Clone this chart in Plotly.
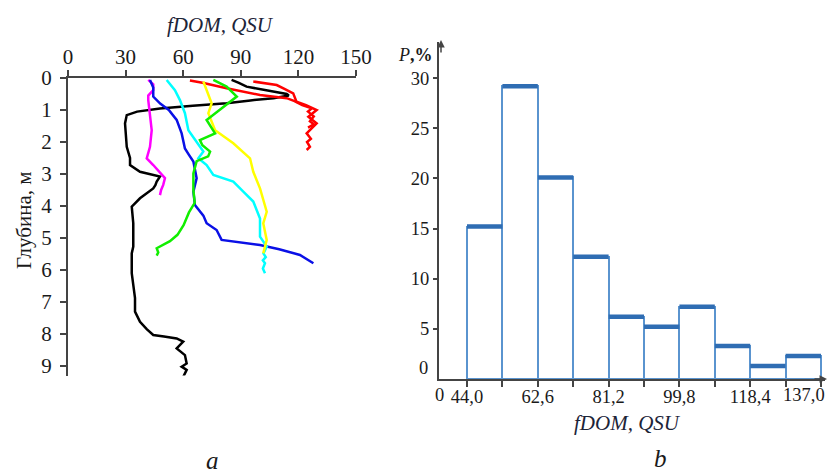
import plotly.graph_objects as go

# ---------------- data: panel a (fDOM depth profiles) ----------------
black_fdom = [85.2, 89, 93, 104, 113.9, 115, 107, 95, 82.6, 65, 47.9, 36, 30.6, 29.7, 30.2, 30.6, 32.3, 32.3,
              37.5, 44, 47.9, 46.2, 45.5, 44.4, 41, 37.5, 33.2, 34, 34, 33.2, 33.2, 34.9, 34.9, 37.5, 41,
              44.4, 50, 56.6, 60, 56.6, 60.9, 61.8, 59.2, 61.8, 59.7]
black_depth = [0.06, 0.15, 0.27, 0.4, 0.5, 0.55, 0.63, 0.7, 0.79, 0.87, 0.95, 1.05, 1.16, 1.42, 1.8, 2.15, 2.5, 2.72,
               2.93, 3.02, 3.08, 3.24, 3.35, 3.45, 3.6, 3.76, 4.02, 4.54, 5.27, 5.48, 6.1, 6.88, 7.3, 7.62, 7.85,
               8.03, 8.08, 8.14, 8.24, 8.45, 8.66, 8.92, 9.02, 9.12, 9.38]

red_a_fdom = [63.5, 70, 82.6, 100, 113.9, 118, 122, 127, 125, 128, 126, 128, 125]
red_a_depth = [0.08, 0.15, 0.32, 0.53, 0.63, 0.72, 0.85, 0.95, 1.05, 1.2, 1.35, 1.45, 1.55]

red_b_fdom = [96.5, 101, 108.7, 113, 117.3, 119, 124, 129.5, 125.2, 129.5, 124.3, 126.5, 124.5, 126, 124.3]
red_b_depth = [0.11, 0.15, 0.22, 0.35, 0.48, 0.74, 0.85, 1.0, 1.21, 1.42, 1.73, 1.9, 2.0, 2.15, 2.25]

magenta_fdom = [41.8, 44.4, 44.4, 41.8, 41.8, 42.7, 43.6, 42.7, 41.8, 41, 44.4, 48, 50.5, 49.6, 48.5, 47.9]
magenta_depth = [0.06, 0.2, 0.38, 0.55, 0.69, 1.1, 1.63, 2.15, 2.35, 2.51, 2.72, 2.95, 3.13, 3.34, 3.5, 3.66]

blue_fdom = [42.7, 44.4, 44.4, 48, 52.5, 56.6, 59.2, 60.9, 63, 65.3, 67, 65.3, 66.1, 70.5, 72.2, 77.4, 80,
             100, 110, 120.8, 127.8]
blue_depth = [0.06, 0.3, 0.58, 0.8, 1.0, 1.31, 1.73, 2.2, 2.4, 2.61, 3.13, 3.55, 3.97, 4.3, 4.54, 4.75, 5.06,
              5.22, 5.35, 5.53, 5.79]

cyan_fdom = [51.4, 55.7, 58.3, 60.9, 62.7, 68.7, 70.5, 67.9, 72.2, 75.7, 86.1, 91.3, 96.5, 100, 100, 103.5,
             101.8, 103, 101.5, 102.6, 101.5, 102.6]
cyan_depth = [0.06, 0.38, 0.69, 1.1, 1.63, 2.15, 2.3, 2.51, 2.72, 3.03, 3.24, 3.55, 3.86, 4.39, 4.96, 5.27,
              5.48, 5.6, 5.7, 5.79, 5.95, 6.1]

yellow_fdom = [70.5, 72.2, 74.8, 73.1, 76.6, 86.1, 94.8, 96.5, 100, 103.5, 101.7, 103.5, 101.7]
yellow_depth = [0.11, 0.38, 0.79, 1.1, 1.63, 2.04, 2.51, 2.93, 3.45, 4.18, 4.54, 5.06, 5.48]

green_fdom = [75.7, 82.6, 87.9, 80.9, 72.2, 76.6, 68.7, 70, 74, 73, 67, 65.3, 65.3, 66, 63, 60.2, 57,
              53.1, 46.2, 47, 46.2]
green_depth = [0.06, 0.27, 0.58, 0.9, 1.31, 1.73, 1.94, 2.1, 2.3, 2.45, 2.6, 2.98, 3.5, 3.9, 4.2, 4.6, 4.9,
               5.1, 5.32, 5.45, 5.55]

profiles = [
    (black_fdom, black_depth, "#000000"),
    (red_a_fdom, red_a_depth, "#ff0000"),
    (red_b_fdom, red_b_depth, "#ff0000"),
    (magenta_fdom, magenta_depth, "#ff00ff"),
    (blue_fdom, blue_depth, "#0a10e6"),
    (cyan_fdom, cyan_depth, "#00ffff"),
    (yellow_fdom, yellow_depth, "#ffff00"),
    (green_fdom, green_depth, "#11ee00"),
]

depth_ticks = [0, 1, 2, 3, 4, 5, 6, 7, 8, 9]
fdom_ticks_a = [0, 30, 60, 90, 120, 150]

# ---------------- data: panel b (histogram) ----------------
bin_edges = [44.0, 53.3, 62.6, 71.9, 81.2, 90.5, 99.8, 109.1, 118.4, 127.7, 137.0]
freq_pct = [15.2, 29.2, 20.1, 12.2, 6.2, 5.2, 7.2, 3.3, 1.3, 2.3]
label_edges = [44.0, 62.6, 81.2, 99.8, 118.4, 137.0]
label_text = ["44,0", "62,6", "81,2", "99,8", "118,4", "137,0"]
p_ticks = [5, 10, 15, 20, 25, 30]

FONT = "Liberation Serif, Times New Roman, serif"
AX = "#444444"
W, H = 831, 473

fig = go.Figure()

for fx, dy, col in profiles:
    fig.add_trace(go.Scatter(x=fx, y=dy, mode="lines", line=dict(color=col, width=2.5),
                             xaxis="x", yaxis="y", showlegend=False, hoverinfo="skip"))

centers = [(bin_edges[i] + bin_edges[i + 1]) / 2 for i in range(len(freq_pct))]
widths = [bin_edges[i + 1] - bin_edges[i] for i in range(len(freq_pct))]
fig.add_trace(go.Bar(x=centers, y=freq_pct, width=widths, xaxis="x2", yaxis="y2",
                     marker=dict(color="white", line=dict(color="#5a94cf", width=2)),
                     showlegend=False))
tx, ty = [], []
for i, v in enumerate(freq_pct):
    tx += [bin_edges[i], bin_edges[i + 1], None]
    ty += [v, v, None]
fig.add_trace(go.Scatter(x=tx, y=ty, mode="lines", line=dict(color="#2f6db3", width=4.5),
                         xaxis="x2", yaxis="y2", showlegend=False, hoverinfo="skip"))

tickfont = dict(family=FONT, size=21, color="#1a1a1a")
tickfont_b = dict(family=FONT, size=18.5, color="#1a1a1a")

# the last label sits left of its tick in the reference (to stay inside the frame): drawn as annotation
axis_ticktext = label_text[:-1] + [""]

fig.update_layout(
    width=W, height=H, autosize=False, margin=dict(l=0, r=0, t=0, b=0, pad=0),
    paper_bgcolor="white", plot_bgcolor="white",
    xaxis=dict(domain=[68 / W, 356 / W], range=[0, 150], side="top", anchor="y", automargin=False,
               tickvals=fdom_ticks_a, ticks="outside", ticklen=6, tickwidth=2, tickcolor=AX,
               showline=True, linecolor=AX, linewidth=2, showgrid=False, zeroline=False,
               tickfont=tickfont, ticklabelstandoff=-2),
    yaxis=dict(domain=[1 - 375.6 / H, 1 - 78 / H], range=[9.3, 0], anchor="x", automargin=False,
               tickvals=depth_ticks, ticks="outside", ticklen=6, tickwidth=2, tickcolor=AX,
               showline=True, linecolor=AX, linewidth=2, showgrid=False, zeroline=False,
               tickfont=tickfont, ticklabelstandoff=4),
    xaxis2=dict(domain=[439 / W, 825 / W], range=[36.64, 138.05], anchor="y2", automargin=False,
                tickvals=label_edges, ticktext=axis_ticktext, ticks="outside", ticklen=6, tickwidth=1.5,
                tickcolor=AX, showline=True, linecolor=AX, linewidth=2, showgrid=False,
                zeroline=False, tickfont=tickfont_b, ticklabelstandoff=-6,
                minor=dict(tickmode="array", tickvals=bin_edges, ticks="outside", ticklen=6,
                           tickwidth=1.5, tickcolor=AX)),
    yaxis2=dict(domain=[1 - 379 / H, 1 - 42 / H], range=[0, 33.6], anchor="x2", automargin=False,
                tickvals=p_ticks, ticks="outside", ticklen=4, tickwidth=1.5, tickcolor=AX,
                showline=True, linecolor=AX, linewidth=2, showgrid=False, zeroline=False,
                tickfont=tickfont_b),
    bargap=0,
)

ann = [
    dict(text="<i>fDOM, QSU</i>", x=220 / W, y=1 - 25 / H, font=dict(family=FONT, size=21, color="#1c2438")),
    dict(text="<i>fDOM, QSU</i>", x=627 / W, y=1 - 423 / H, font=dict(family=FONT, size=21, color="#1c2438")),
    dict(text="Глубина, м", x=24 / W, y=1 - 220 / H, textangle=-90, font=dict(family=FONT, size=21, color="#1a1a1a")),
    dict(text="<i>a</i>", x=212 / W, y=1 - 460 / H, font=dict(family=FONT, size=25, color="#1a1a1a")),
    dict(text="<i>b</i>", x=660 / W, y=1 - 458 / H, font=dict(family=FONT, size=25, color="#1a1a1a")),
    dict(text="<i>P</i><b>,%</b>", x=415 / W, y=1 - 55 / H, font=dict(family=FONT, size=18, color="#1a1a1a")),
    dict(text="0", x=423 / W, y=1 - 368 / H, font=tickfont_b),
    dict(text="0", x=439 / W, y=1 - 395 / H, font=tickfont_b),
    dict(text=label_text[-1], x=804 / W, y=1 - 395 / H, font=tickfont_b),
]
annotations = []
for a in ann:
    a.update(xref="paper", yref="paper", showarrow=False, xanchor="center", yanchor="middle")
    annotations.append(a)
annotations.append(dict(xref="paper", yref="paper", x=441 / W, y=1 - 40 / H, ax=0, ay=14, text="",
                        showarrow=True, arrowhead=2, arrowsize=1, arrowwidth=1.5, arrowcolor=AX))
annotations.append(dict(xref="paper", yref="paper", x=827 / W, y=1 - 379 / H, ax=-14, ay=0, text="",
                        showarrow=True, arrowhead=2, arrowsize=1, arrowwidth=1.5, arrowcolor=AX))
fig.update_layout(annotations=annotations)

fig.write_html("out.html")
